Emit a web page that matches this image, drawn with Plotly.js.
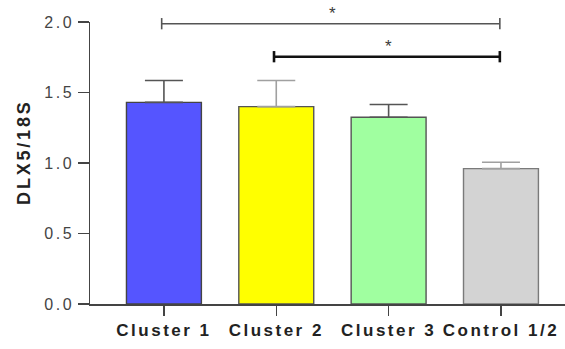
<!DOCTYPE html>
<html>
<head>
<meta charset="utf-8">
<script src="https://cdn.plot.ly/plotly-3.0.1.min.js"></script>
<style>
  html, body { margin: 0; padding: 0; background: #fff; }
  #chart { width: 565px; height: 349px; }
  .xtick text { letter-spacing: 2.5px; }
  .ytick text { letter-spacing: 2.6px; }
  .annotation.ytitle text { letter-spacing: 2.8px; }
</style>
</head>
<body>
<div id="chart"></div>
<script>
// DLX5 expression relative to 18S, mean + SEM per group
const groups = ['Cluster 1', 'Cluster 2', 'Cluster 3', 'Control 1/2'];
const means = [1.43, 1.40, 1.325, 0.96];
const sem = [0.155, 0.185, 0.09, 0.045];
const fillColors = ['#5555ff', '#ffff00', '#a0ffa0', '#d3d3d3'];
const lineColors = ['#444444', '#555555', '#555555', '#7a7a7a'];
const errColors = ['#555555', '#a0a0a0', '#555555', '#a0a0a0'];

const yTicks = [0, 0.5, 1.0, 1.5, 2.0];
const yTickText = ['0.0', '0.5', '1.0', '1.5', '2.0'];
const yMax = 2.0;
const yTitle = 'DLX5/18S';

// significance brackets: [from group, to group, level, label]
const brackets = [
  { from: 0, to: 3, y: 1.988, label: '*', color: '#555555', width: 1.6 },
  { from: 1, to: 3, y: 1.754, label: '*', color: '#111111', width: 2.6 }
];

const traces = groups.map((g, i) => ({
  type: 'bar',
  x: [g],
  y: [means[i]],
  width: 0.667,
  marker: { color: fillColors[i], line: { color: lineColors[i], width: 1.4 } },
  error_y: {
    type: 'data', symmetric: false, array: [sem[i]], arrayminus: [0],
    color: errColors[i], thickness: 1.6, width: 19
  },
  hoverinfo: 'none',
  showlegend: false
}));

const shapes = [];
const annotations = [];
const tickHalf = 0.02; // bracket end tick half-height in paper units
brackets.forEach(b => {
  const yp = b.y / yMax;
  const x0 = b.from - 0.02, x1 = b.to - 0.01;
  const line = { color: b.color, width: b.width };
  shapes.push({ type: 'line', xref: 'x', yref: 'paper', x0: x0, x1: x1, y0: yp, y1: yp, line: line });
  shapes.push({ type: 'line', xref: 'x', yref: 'paper', x0: x0, x1: x0, y0: yp - tickHalf, y1: yp + tickHalf, line: line });
  shapes.push({ type: 'line', xref: 'x', yref: 'paper', x0: x1, x1: x1, y0: yp - tickHalf, y1: yp + tickHalf, line: line });
  annotations.push({
    xref: 'x', yref: 'paper', x: (b.from + b.to) / 2, y: yp - 0.006,
    text: b.label, showarrow: false, yanchor: 'bottom',
    font: { family: 'Liberation Sans, Arial, sans-serif', size: 17, color: '#3a3a3a' }
  });
});

// vertical axis title, placed beside the tick labels
annotations.push({
  xref: 'paper', yref: 'paper', x: -0.139, y: 0.54,
  xanchor: 'center', yanchor: 'middle', textangle: -90,
  text: yTitle, showarrow: false, name: 'ytitle',
  font: { family: 'Liberation Sans, Arial, sans-serif', size: 18, color: '#222', weight: 'bold' }
});

const layout = {
  width: 565, height: 349,
  margin: { l: 90, r: 0, t: 22, b: 45, pad: 0 },
  paper_bgcolor: '#ffffff', plot_bgcolor: '#ffffff',
  barmode: 'overlay',
  xaxis: {
    type: 'category',
    categoryorder: 'array', categoryarray: groups,
    range: [-0.658, 3.57],
    showline: true, linecolor: '#444', linewidth: 1.5,
    ticks: 'outside', ticklen: 10, tickwidth: 1.5, tickcolor: '#444',
    showgrid: false, zeroline: false, fixedrange: true,
    tickfont: { family: 'Liberation Sans, Arial, sans-serif', size: 17, color: '#222', weight: 'bold' }
  },
  yaxis: {
    range: [0, yMax],
    tickvals: yTicks, ticktext: yTickText,
    showline: true, linecolor: '#444', linewidth: 1.5,
    ticks: 'outside', ticklen: 11, tickwidth: 1.5, tickcolor: '#444',
    showgrid: false, zeroline: false, fixedrange: true,
    tickfont: { family: 'Liberation Sans, Arial, sans-serif', size: 16, color: '#444' }
  },
  shapes: shapes,
  annotations: annotations
};

Plotly.newPlot('chart', traces, layout, { displayModeBar: false, staticPlot: true }).then(() => {
  // tag the axis-title annotation so its letter spacing can be styled
  document.querySelectorAll('.annotation').forEach(el => {
    if (el.textContent === yTitle) el.classList.add('ytitle');
  });
});
</script>
</body>
</html>
